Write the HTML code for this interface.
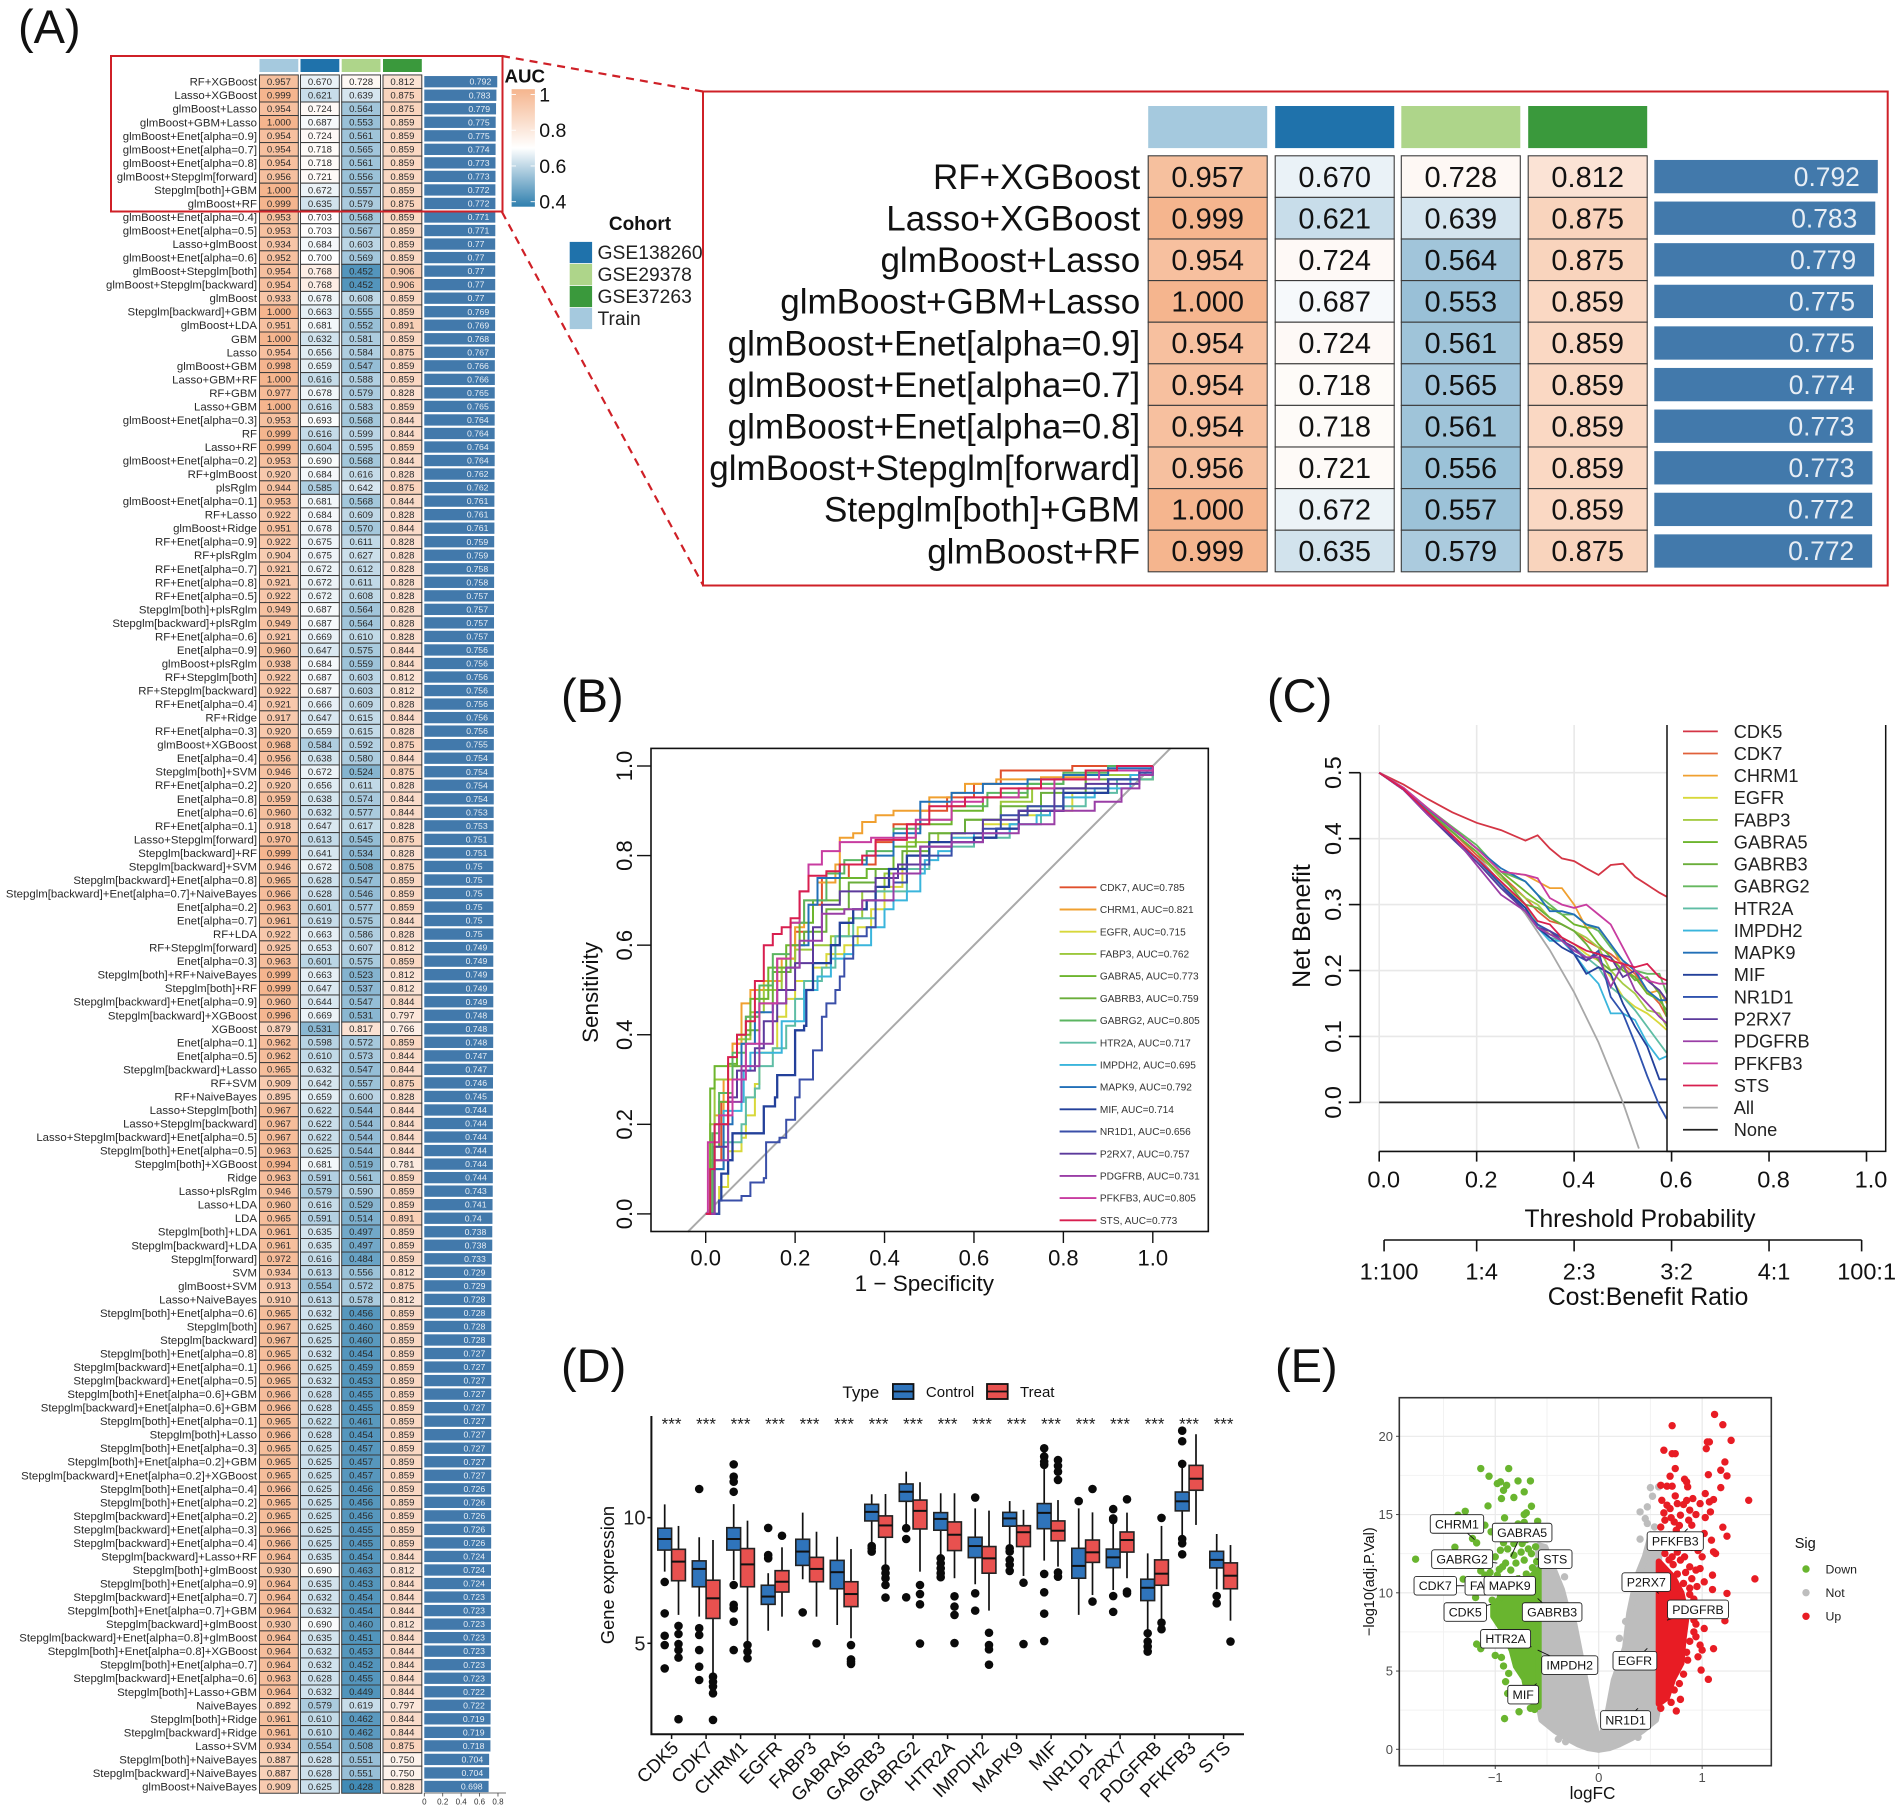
<!DOCTYPE html>
<html lang="en">
<head>
<meta charset="utf-8">
<title>Multi-panel gene signature figure</title>
<style>
html,body{margin:0;padding:0;background:#fff}
svg{display:block;font-family:"Liberation Sans",Arial,sans-serif}
</style>
</head>
<body>
<svg id="figure" xmlns="http://www.w3.org/2000/svg" width="1902" height="1812" viewBox="0 0 1902 1812">
  <rect x="0" y="0" width="1902" height="1812" fill="#fff"/>
  <text x="18" y="43" font-size="47" fill="#111">(A)</text>
  <text x="561" y="712" font-size="47" fill="#111">(B)</text>
  <text x="1267" y="712" font-size="47" fill="#111">(C)</text>
  <text x="561" y="1382" font-size="47" fill="#111">(D)</text>
  <text x="1275" y="1382" font-size="47" fill="#111">(E)</text>

  <g id="panel-a"></g>
  <g id="panel-a-inset"></g>
  <rect x="111" y="56" width="391.5" height="155.5" fill="none" stroke="#cf2027" stroke-width="2"/>
  <rect x="703" y="91.5" width="1184.7" height="494" fill="none" stroke="#cf2027" stroke-width="2"/>
  <line x1="502" y1="56" x2="703" y2="91.5" stroke="#cf2027" stroke-width="2.2" stroke-dasharray="8 6"/>
  <line x1="502" y1="212" x2="703" y2="585" stroke="#cf2027" stroke-width="2.2" stroke-dasharray="8 6"/>

  <g id="auc-legend">
    <text x="504.5" y="82.5" font-size="18.7" font-weight="bold" fill="#111">AUC</text>
  </g>
  <g id="cohort-legend">
    <text x="640" y="230" font-size="19" font-weight="bold" text-anchor="middle" fill="#111">Cohort</text>
  </g>

  <g id="panel-b">
    <text x="924.3" y="1291" font-size="22.5" text-anchor="middle" fill="#111">1 − Specificity</text>
    <text transform="translate(598 992.5) rotate(-90)" font-size="22.4" text-anchor="middle" fill="#111">Sensitivity</text>
  </g>

  <g id="panel-c">
    <text x="1640" y="1227" font-size="24.6" text-anchor="middle" fill="#111">Threshold Probability</text>
    <text x="1648" y="1305" font-size="24.9" text-anchor="middle" fill="#111">Cost:Benefit Ratio</text>
    <text transform="translate(1310 926) rotate(-90)" font-size="25" text-anchor="middle" fill="#111">Net Benefit</text>
  </g>

  <g id="panel-d">
    <text transform="translate(614 1575) rotate(-90)" font-size="18.3" text-anchor="middle" fill="#111">Gene expression</text>
    <text x="842.4" y="1398" font-size="17" fill="#111">Type</text>
    <g>
      <rect x="892.9" y="1384" width="20.6" height="15" fill="#2f74bb" stroke="#111" stroke-width="1.8"/>
      <line x1="892.9" x2="913.5" y1="1391.5" y2="1391.5" stroke="#111" stroke-width="1.8"/>
      <text x="925.9" y="1397" font-size="15" fill="#111">Control</text>
    </g>
    <g>
      <rect x="987" y="1384" width="20.7" height="15" fill="#e8514f" stroke="#111" stroke-width="1.8"/>
      <line x1="987" x2="1007.7" y1="1391.5" y2="1391.5" stroke="#111" stroke-width="1.8"/>
      <text x="1020" y="1397" font-size="15" fill="#111">Treat</text>
    </g>
  </g>

  <g id="panel-e">
    <text x="1592.5" y="1799" font-size="17.2" text-anchor="middle" fill="#111">logFC</text>
    <text transform="translate(1374 1581.7) rotate(-90)" font-size="14.5" text-anchor="middle" fill="#111">−log10(adj.P.Val)</text>
    <text x="1794.7" y="1548" font-size="14.6" fill="#111">Sig</text>
  </g>
</svg>

<script>
/* ---------- Panel A data ---------- */
const E = a => 'Enet[alpha=' + a + ']';
const rowNames = ['RF+XGBoost','Lasso+XGBoost','glmBoost+Lasso','glmBoost+GBM+Lasso','glmBoost+'+E(0.9),'glmBoost+'+E(0.7),'glmBoost+'+E(0.8),'glmBoost+Stepglm[forward]','Stepglm[both]+GBM','glmBoost+RF',
'glmBoost+'+E(0.4),'glmBoost+'+E(0.5),'Lasso+glmBoost','glmBoost+'+E(0.6),'glmBoost+Stepglm[both]','glmBoost+Stepglm[backward]','glmBoost','Stepglm[backward]+GBM','glmBoost+LDA','GBM',
'Lasso','glmBoost+GBM','Lasso+GBM+RF','RF+GBM','Lasso+GBM','glmBoost+'+E(0.3),'RF','Lasso+RF','glmBoost+'+E(0.2),'RF+glmBoost',
'plsRglm','glmBoost+'+E(0.1),'RF+Lasso','glmBoost+Ridge','RF+'+E(0.9),'RF+plsRglm','RF+'+E(0.7),'RF+'+E(0.8),'RF+'+E(0.5),'Stepglm[both]+plsRglm',
'Stepglm[backward]+plsRglm','RF+'+E(0.6),E(0.9),'glmBoost+plsRglm','RF+Stepglm[both]','RF+Stepglm[backward]','RF+'+E(0.4),'RF+Ridge','RF+'+E(0.3),'glmBoost+XGBoost',
E(0.4),'Stepglm[both]+SVM','RF+'+E(0.2),E(0.8),E(0.6),'RF+'+E(0.1),'Lasso+Stepglm[forward]','Stepglm[backward]+RF','Stepglm[backward]+SVM','Stepglm[backward]+'+E(0.8),
'Stepglm[backward]+'+E(0.7)+'+NaiveBayes',E(0.2),E(0.7),'RF+LDA','RF+Stepglm[forward]',E(0.3),'Stepglm[both]+RF+NaiveBayes','Stepglm[both]+RF','Stepglm[backward]+'+E(0.9),'Stepglm[backward]+XGBoost',
'XGBoost',E(0.1),E(0.5),'Stepglm[backward]+Lasso','RF+SVM','RF+NaiveBayes','Lasso+Stepglm[both]','Lasso+Stepglm[backward]','Lasso+Stepglm[backward]+'+E(0.5),'Stepglm[both]+'+E(0.5),
'Stepglm[both]+XGBoost','Ridge','Lasso+plsRglm','Lasso+LDA','LDA','Stepglm[both]+LDA','Stepglm[backward]+LDA','Stepglm[forward]','SVM','glmBoost+SVM',
'Lasso+NaiveBayes','Stepglm[both]+'+E(0.6),'Stepglm[both]','Stepglm[backward]','Stepglm[both]+'+E(0.8),'Stepglm[backward]+'+E(0.1),'Stepglm[backward]+'+E(0.5),'Stepglm[both]+'+E(0.6)+'+GBM','Stepglm[backward]+'+E(0.6)+'+GBM','Stepglm[both]+'+E(0.1),
'Stepglm[both]+Lasso','Stepglm[both]+'+E(0.3),'Stepglm[both]+'+E(0.2)+'+GBM','Stepglm[backward]+'+E(0.2)+'+XGBoost','Stepglm[both]+'+E(0.4),'Stepglm[both]+'+E(0.2),'Stepglm[backward]+'+E(0.2),'Stepglm[backward]+'+E(0.3),'Stepglm[backward]+'+E(0.4),'Stepglm[backward]+Lasso+RF',
'Stepglm[both]+glmBoost','Stepglm[both]+'+E(0.9),'Stepglm[backward]+'+E(0.7),'Stepglm[both]+'+E(0.7)+'+GBM','Stepglm[backward]+glmBoost','Stepglm[backward]+'+E(0.8)+'+glmBoost','Stepglm[both]+'+E(0.8)+'+XGBoost','Stepglm[both]+'+E(0.7),'Stepglm[backward]+'+E(0.6),'Stepglm[both]+Lasso+GBM',
'NaiveBayes','Stepglm[both]+Ridge','Stepglm[backward]+Ridge','Lasso+SVM','Stepglm[both]+NaiveBayes','Stepglm[backward]+NaiveBayes','glmBoost+NaiveBayes'];
const trainAuc = [.957,.999,.954,1,.954,.954,.954,.956,1,.999,.953,.953,.934,.952,.954,.954,.933,1,.951,1,.954,.998,1,.977,1,.953,.999,.999,.953,.92,.944,.953,.922,.951,.922,.904,.921,.921,.922,.949,.949,.921,.96,.938,.922,.922,.921,.917,.92,.968,.956,.946,.92,.959,.96,.918,.97,.999,.946,.965,.966,.963,.961,.922,.925,.963,.999,.999,.96,.996,.879,.962,.962,.965,.909,.895,.967,.967,.967,.963,.994,.963,.946,.96,.965,.961,.961,.972,.934,.913,.91,.965,.967,.967,.965,.966,.965,.966,.966,.965,.966,.965,.965,.965,.966,.965,.965,.966,.966,.964,.93,.964,.964,.964,.93,.964,.964,.964,.963,.964,.892,.961,.961,.934,.887,.887,.909];
const gse138260Auc = [.67,.621,.724,.687,.724,.718,.718,.721,.672,.635,.703,.703,.684,.7,.768,.768,.678,.663,.681,.632,.656,.659,.616,.678,.616,.693,.616,.604,.69,.684,.585,.681,.684,.678,.675,.675,.672,.672,.672,.687,.687,.669,.647,.684,.687,.687,.666,.647,.659,.584,.638,.672,.656,.638,.632,.647,.613,.641,.672,.628,.628,.601,.619,.663,.653,.601,.663,.647,.644,.669,.531,.598,.61,.632,.642,.659,.622,.622,.622,.625,.681,.591,.579,.616,.591,.635,.635,.616,.613,.554,.613,.632,.625,.625,.632,.625,.632,.628,.628,.622,.628,.625,.625,.625,.625,.625,.625,.625,.625,.635,.69,.635,.632,.632,.69,.635,.632,.632,.628,.632,.579,.61,.61,.554,.628,.628,.625];
const gse29378Auc = [.728,.639,.564,.553,.561,.565,.561,.556,.557,.579,.568,.567,.603,.569,.452,.452,.608,.555,.552,.581,.584,.547,.588,.579,.583,.568,.599,.595,.568,.616,.642,.568,.609,.57,.611,.627,.612,.611,.608,.564,.564,.61,.575,.559,.603,.603,.609,.615,.615,.592,.58,.524,.611,.574,.577,.617,.545,.534,.508,.547,.546,.577,.575,.586,.607,.575,.523,.537,.547,.531,.817,.572,.573,.547,.557,.6,.544,.544,.544,.544,.519,.561,.59,.529,.514,.497,.497,.484,.556,.572,.578,.456,.46,.46,.454,.459,.453,.455,.455,.461,.454,.457,.457,.457,.456,.456,.456,.455,.455,.454,.463,.453,.454,.454,.46,.451,.453,.452,.455,.449,.619,.462,.462,.508,.551,.551,.428];
const gse37263Auc = [.812,.875,.875,.859,.859,.859,.859,.859,.859,.875,.859,.859,.859,.859,.906,.906,.859,.859,.891,.859,.875,.859,.859,.828,.859,.844,.844,.859,.844,.828,.875,.844,.828,.844,.828,.828,.828,.828,.828,.828,.828,.828,.844,.844,.812,.812,.828,.844,.828,.875,.844,.875,.828,.844,.844,.828,.875,.828,.875,.859,.859,.859,.844,.828,.812,.859,.812,.812,.844,.797,.766,.859,.844,.844,.875,.828,.844,.844,.844,.844,.781,.859,.859,.859,.891,.859,.859,.859,.812,.875,.812,.859,.859,.859,.859,.859,.859,.859,.859,.859,.859,.859,.859,.859,.859,.859,.859,.859,.859,.844,.812,.844,.844,.844,.812,.844,.844,.844,.844,.844,.797,.844,.844,.875,.75,.75,.828];
const meanAuc = ['0.792','0.783','0.779','0.775','0.775','0.774','0.773','0.773','0.772','0.772','0.771','0.771','0.77','0.77','0.77','0.77','0.77','0.769','0.769','0.768','0.767','0.766','0.766','0.765','0.765','0.764','0.764','0.764','0.764','0.762','0.762','0.761','0.761','0.761','0.759','0.759','0.758','0.758','0.757','0.757','0.757','0.757','0.756','0.756','0.756','0.756','0.756','0.756','0.756','0.755','0.754','0.754','0.754','0.754','0.753','0.753','0.751','0.751','0.75','0.75','0.75','0.75','0.75','0.75','0.749','0.749','0.749','0.749','0.749','0.748','0.748','0.748','0.747','0.747','0.746','0.745','0.744','0.744','0.744','0.744','0.744','0.744','0.743','0.741','0.74','0.738','0.738','0.733','0.729','0.729','0.728','0.728','0.728','0.728','0.727','0.727','0.727','0.727','0.727','0.727','0.727','0.727','0.727','0.727','0.726','0.726','0.726','0.726','0.726','0.724','0.724','0.724','0.723','0.723','0.723','0.723','0.723','0.723','0.723','0.722','0.722','0.719','0.719','0.718','0.704','0.704','0.698'];
const cohortNames = ['GSE138260','GSE29378','GSE37263','Train'];
const cohortColors = ['#1f72ab','#aed58a','#3a993c','#a5c9de'];
const columnCohorts = ['Train','GSE138260','GSE29378','GSE37263'];
const barAxisTicks = [0,0.2,0.4,0.6,0.8];
const aucLegendTicks = [1,0.8,0.6,0.4];

/* ---------- Panel B data ---------- */
const rocTicks = [0,0.2,0.4,0.6,0.8,1];
const rocNames = ['CDK7','CHRM1','EGFR','FABP3','GABRA5','GABRB3','GABRG2','HTR2A','IMPDH2','MAPK9','MIF','NR1D1','P2RX7','PDGFRB','PFKFB3','STS'];
const rocAucs = ['0.785','0.821','0.715','0.762','0.773','0.759','0.805','0.717','0.695','0.792','0.714','0.656','0.757','0.731','0.805','0.773'];
const rocColors = ['#e0502d','#f0a030','#d8d83a','#9cc83c','#6db52e','#6aae3a','#5bb561','#5fbda5','#3ab5dc','#2270b8','#23409a','#3a4fa8','#5c3a9c','#9a3ea6','#c83ca0','#d81f4f'];
const rocCDK7 = [[0,0],[.015,.12],[.035,.25],[.06,.38],[.09,.44],[.12,.5],[.16,.57],[.2,.63],[.23,.69],[.26,.75],[.32,.78],[.38,.83],[.42,.87],[.48,.9],[.54,.93],[.6,.96],[.66,.99],[.75,.99],[.82,1],[1,1]];
const rocCHRM1 = [[0,0],[.01,.12],[.02,.22],[.04,.3],[.06,.38],[.08,.47],[.1,.5],[.13,.52],[.17,.57],[.2,.64],[.22,.7],[.25,.74],[.29,.78],[.3,.84],[.33,.85],[.35,.875],[.38,.89],[.42,.9],[.47,.9],[.5,.93],[.55,.94],[.58,.96],[.65,.97],[.75,.975],[.85,.99],[1,1]];
const rocEGFR = [[0,0],[.03,.06],[.05,.14],[.08,.17],[.09,.22],[.11,.29],[.12,.36],[.15,.37],[.16,.44],[.18,.48],[.2,.52],[.24,.55],[.27,.58],[.31,.6],[.34,.64],[.37,.68],[.4,.73],[.44,.78],[.48,.82],[.55,.84],[.62,.87],[.7,.89],[.77,.9],[.82,.94],[.9,.97],[1,1]];
const rocFABP3 = [[0,0],[.01,.2],[.02,.3],[.05,.33],[.07,.39],[.1,.45],[.13,.5],[.17,.55],[.2,.59],[.24,.6],[.28,.62],[.32,.66],[.35,.72],[.4,.76],[.45,.83],[.52,.85],[.58,.88],[.66,.92],[.73,.95],[.85,.98],[1,1]];
const rocGABRA5 = [[0,0],[.01,.28],[.02,.33],[.05,.335],[.07,.4],[.1,.48],[.14,.55],[.18,.6],[.21,.65],[.24,.7],[.3,.75],[.36,.77],[.42,.82],[.47,.87],[.55,.9],[.62,.93],[.72,.96],[.8,.98],[.9,1],[1,1]];
const rocGABRB3 = [[0,0],[.015,.15],[.03,.25],[.06,.33],[.09,.41],[.12,.47],[.15,.54],[.19,.6],[.22,.63],[.27,.68],[.32,.74],[.38,.77],[.44,.81],[.5,.85],[.58,.88],[.66,.91],[.75,.94],[.85,.97],[1,1]];
const rocGABRG2 = [[0,0],[.015,.18],[.03,.27],[.06,.36],[.09,.44],[.12,.51],[.15,.58],[.19,.65],[.22,.7],[.27,.76],[.31,.79],[.36,.81],[.42,.86],[.48,.88],[.55,.91],[.63,.94],[.72,.96],[.8,.985],[.9,1],[1,1]];
const rocHTR2A = [[0,0],[.02,.1],[.04,.16],[.08,.2],[.09,.26],[.11,.28],[.12,.33],[.15,.37],[.18,.42],[.2,.48],[.22,.52],[.26,.55],[.29,.62],[.33,.66],[.38,.72],[.45,.77],[.5,.82],[.6,.84],[.68,.87],[.75,.91],[.85,.94],[.92,.97],[1,1]];
const rocIMPDH2 = [[0,0],[.01,.1],[.02,.2],[.04,.23],[.08,.25],[.085,.32],[.1,.36],[.14,.36],[.17,.43],[.21,.43],[.22,.5],[.25,.53],[.28,.57],[.31,.58],[.33,.6],[.37,.64],[.4,.68],[.42,.7],[.45,.72],[.48,.76],[.49,.79],[.52,.81],[.55,.84],[.6,.85],[.68,.87],[.74,.89],[.77,.9],[.8,.93],[.87,.95],[.95,.98],[1,1]];
const rocMAPK9 = [[0,0],[.02,.1],[.04,.2],[.06,.3],[.08,.38],[.11,.45],[.15,.47],[.18,.55],[.21,.6],[.23,.69],[.25,.75],[.3,.78],[.36,.8],[.42,.85],[.48,.92],[.55,.94],[.62,.96],[.72,.97],[.8,.98],[.9,.995],[1,1]];
const rocMIF = [[0,0],[.03,.03],[.035,.09],[.05,.12],[.06,.18],[.13,.18],[.13,.24],[.155,.26],[.16,.31],[.2,.325],[.2,.41],[.22,.42],[.225,.5],[.24,.56],[.28,.6],[.3,.65],[.33,.68],[.36,.7],[.38,.73],[.41,.77],[.45,.8],[.5,.83],[.6,.84],[.65,.86],[.7,.9],[.8,.94],[.9,.97],[.97,.99],[1,1]];
const rocNR1D1 = [[0,0],[.03,.03],[.08,.04],[.1,.07],[.13,.08],[.135,.16],[.165,.17],[.18,.21],[.2,.26],[.21,.3],[.24,.31],[.24,.365],[.26,.44],[.27,.47],[.29,.5],[.3,.53],[.31,.57],[.33,.58],[.33,.62],[.36,.64],[.38,.7],[.42,.74],[.45,.78],[.5,.8],[.55,.83],[.62,.86],[.66,.89],[.72,.91],[.8,.95],[.9,.97],[.97,.985],[1,1]];
const rocP2RX7 = [[0,0],[.02,.15],[.05,.26],[.07,.32],[.11,.37],[.13,.43],[.16,.5],[.2,.56],[.24,.64],[.26,.69],[.3,.72],[.38,.75],[.43,.78],[.48,.82],[.55,.85],[.62,.88],[.7,.9],[.78,.95],[.85,.96],[.97,.99],[1,1]];
const rocPDGFRB = [[0,0],[.02,.12],[.05,.25],[.08,.33],[.12,.38],[.15,.47],[.18,.55],[.21,.61],[.26,.67],[.31,.68],[.35,.7],[.42,.76],[.48,.82],[.55,.83],[.62,.85],[.7,.87],[.78,.9],[.87,.92],[.93,.95],[.97,.98],[1,1]];
const rocPFKFB3 = [[0,0],[.005,.16],[.03,.22],[.06,.3],[.09,.38],[.12,.47],[.16,.57],[.19,.65],[.21,.72],[.23,.78],[.26,.81],[.3,.83],[.37,.84],[.43,.84],[.47,.88],[.55,.92],[.62,.93],[.7,.95],[.78,.97],[.88,.99],[1,1]];
const rocSTS = [[0,0],[.01,.1],[.02,.2],[.05,.35],[.07,.4],[.09,.43],[.11,.52],[.13,.6],[.15,.625],[.17,.64],[.19,.66],[.21,.72],[.23,.755],[.27,.765],[.3,.78],[.35,.8],[.38,.835],[.45,.87],[.5,.91],[.58,.93],[.66,.95],[.75,.97],[.85,.99],[.92,1],[1,1]];
const rocSeries = [rocCDK7,rocCHRM1,rocEGFR,rocFABP3,rocGABRA5,rocGABRB3,rocGABRG2,rocHTR2A,rocIMPDH2,rocMAPK9,rocMIF,rocNR1D1,rocP2RX7,rocPDGFRB,rocPFKFB3,rocSTS];

/* ---------- Panel C data ---------- */
const dcaThresholds = [0,.05,.1,.15,.2,.25,.3,.325,.35,.375,.4,.425,.45,.475,.5,.525,.55,.575,.59];
const dcaXTicks = [0,0.2,0.4,0.6,0.8,1];
const dcaYTicks = [0,0.1,0.2,0.3,0.4,0.5];
const dcaRatioPositions = [0.01,0.2,0.4,0.6,0.8,0.99];
const dcaRatioLabels = ['1:100','1:4','2:3','3:2','4:1','100:1'];
const dcaNames = ['CDK5','CDK7','CHRM1','EGFR','FABP3','GABRA5','GABRB3','GABRG2','HTR2A','IMPDH2','MAPK9','MIF','NR1D1','P2RX7','PDGFRB','PFKFB3','STS','All','None'];
const dcaColors = ['#d43545','#e0603a','#f0a030','#d8d83a','#a6cc45','#6db52e','#6aae3a','#66b85f','#5fbda5','#3ab5dc','#2270b8','#23409a','#2f52ae','#5c3a9c','#9a3ea6','#c83ca0','#d81f4f','#a8a8a8','#222222'];
const dcaCDK5 = [.5,.482,.46,.44,.424,.413,.397,.405,.385,.37,.366,.355,.345,.36,.362,.342,.33,.318,.312];
const dcaCDK7 = [.5,.475,.44,.41,.375,.345,.31,.29,.275,.27,.26,.245,.235,.225,.21,.195,.17,.15,.13];
const dcaCHRM1 = [.5,.476,.445,.415,.385,.35,.345,.335,.325,.325,.3,.265,.265,.24,.205,.19,.165,.17,.15];
const dcaEGFR = [.5,.475,.44,.405,.37,.33,.3,.27,.255,.25,.24,.225,.215,.19,.16,.145,.135,.12,.11];
const dcaFABP3 = [.5,.476,.442,.41,.38,.34,.31,.3,.28,.27,.26,.25,.235,.2,.18,.165,.14,.135,.115];
const dcaGABRA5 = [.5,.476,.445,.415,.385,.35,.32,.305,.295,.285,.27,.265,.24,.22,.2,.19,.165,.155,.14];
const dcaGABRB3 = [.5,.476,.442,.41,.38,.345,.3,.295,.28,.27,.26,.24,.215,.2,.205,.185,.19,.165,.13];
const dcaGABRG2 = [.5,.477,.446,.418,.39,.35,.335,.315,.3,.285,.285,.27,.26,.235,.215,.2,.195,.195,.165];
const dcaHTR2A = [.5,.474,.438,.4,.365,.33,.295,.27,.25,.245,.235,.22,.205,.175,.16,.14,.115,.09,.075];
const dcaIMPDH2 = [.5,.474,.438,.4,.365,.325,.295,.265,.245,.245,.225,.2,.18,.135,.135,.125,.09,.065,.07];
const dcaMAPK9 = [.5,.476,.445,.415,.385,.355,.335,.315,.29,.29,.285,.27,.265,.24,.215,.2,.17,.155,.155];
const dcaMIF = [.5,.474,.438,.402,.37,.33,.295,.265,.25,.235,.225,.195,.205,.195,.15,.115,.085,.035,.035];
const dcaNR1D1 = [.5,.474,.436,.402,.37,.33,.29,.27,.26,.25,.225,.215,.23,.16,.135,.09,.04,-.005,-.025];
const dcaP2RX7 = [.5,.474,.436,.4,.365,.325,.29,.265,.26,.245,.235,.215,.225,.22,.19,.2,.185,.17,.155];
const dcaPDGFRB = [.5,.474,.436,.405,.36,.315,.29,.265,.255,.245,.23,.22,.22,.175,.21,.17,.15,.13,.12];
const dcaPFKFB3 = [.5,.477,.446,.416,.385,.35,.345,.34,.31,.3,.295,.3,.285,.27,.235,.2,.185,.18,.18];
const dcaSTS = [.5,.475,.44,.405,.37,.335,.3,.275,.27,.25,.24,.23,.225,.215,.21,.205,.21,.19,.185];
const dcaAllX = [0,.05,.1,.15,.2,.25,.3,.35,.4,.45,.5,.533];
const dcaAllY = [.5,.474,.444,.412,.375,.333,.286,.231,.167,.091,0,-.07];
const dcaNoneX = [0,.59];
const dcaNoneY = [0,0];
const dcaSeries = [dcaCDK5,dcaCDK7,dcaCHRM1,dcaEGFR,dcaFABP3,dcaGABRA5,dcaGABRB3,dcaGABRG2,dcaHTR2A,dcaIMPDH2,dcaMAPK9,dcaMIF,dcaNR1D1,dcaP2RX7,dcaPDGFRB,dcaPFKFB3,dcaSTS];

/* ---------- Panel D data ---------- */
const boxGenes = ['CDK5','CDK7','CHRM1','EGFR','FABP3','GABRA5','GABRB3','GABRG2','HTR2A','IMPDH2','MAPK9','MIF','NR1D1','P2RX7','PDGFRB','PFKFB3','STS'];
const boxYTicks = [5,10];
const controlQ1 = [8.71,7.25,8.71,6.55,8.1,7.17,9.87,10.65,9.5,8.41,9.66,9.56,7.59,8.01,6.7,10.27,8.0];
const controlMedian = [9.15,7.96,9.15,6.86,8.65,7.83,10.23,11.03,9.95,8.87,9.97,10.19,8.08,8.42,7.21,10.65,8.32];
const controlQ3 = [9.58,8.28,9.6,7.31,9.14,8.3,10.53,11.34,10.2,9.22,10.21,10.56,8.78,8.75,7.55,11.02,8.66];
const controlLow = [7.85,6.06,7.52,5.5,7.55,5.73,8.98,9.71,8.51,7.35,8.85,8.29,6.13,7.12,5.53,9.24,7.15];
const controlHigh = [10.53,9.22,10.54,7.79,10.2,9.24,10.93,11.83,10.97,10.37,10.66,12.1,10.37,9.84,8.58,12.06,9.35];
const controlOutliers = [[7.44,6.19,5.3,4.93,4.0],[11.14,5.6,5.33,4.73,4.07,3.54],[12.12,11.63,11.43,11.03,7.32,6.53,6.39,5.86,4.73],[9.59,8.51,8.38],[6.23],[],[8.87,8.78,8.65],[9.58,9.15,6.83],[8.38,8.18,7.98,7.79,7.63],[10.8,6.99,6.3],[8.78,8.65,8.32,8.12,7.88],[12.76,12.43,12.23,12.1,7.76,7.03,6.18,5.09],[10.66],[10.34,9.97,9.91,6.88,6.25],[5.4,5.07,4.87,4.67],[13.46,13.04,12.14,9.15,8.98,8.54],[6.88,6.59]];
const treatQ1 = [7.49,5.99,7.25,7.04,7.45,6.46,9.22,9.55,8.69,7.79,8.85,9.08,8.22,8.63,7.31,11.09,7.17];
const treatMedian = [8.25,6.79,8.14,7.45,7.96,6.96,9.69,10.27,9.32,8.38,9.42,9.48,8.62,9.11,7.77,11.55,7.69];
const treatQ3 = [8.74,7.51,8.77,7.89,8.42,7.45,10.07,10.7,9.83,8.85,9.68,9.87,9.11,9.43,8.32,12.08,8.2];
const treatLow = [6.13,3.81,5.07,6.06,6.06,5.2,8.12,7.85,7.59,6.3,7.68,8.05,6.92,7.59,5.95,9.71,5.9];
const treatHigh = [9.67,9.11,9.88,8.82,9.44,8.75,10.94,11.41,10.97,10.28,10.31,10.7,10.21,10.2,9.67,13.32,8.91];
const treatOutliers = [[5.69,5.37,4.97,4.73,4.43,1.98],[3.67,3.47,3.28,3.01,1.95],[4.93,4.67,4.4],[9.28],[5],[4.93,4.36,4.27,4.18],[7.98,7.79,7.59,7.32,6.82],[7.32,6.96,6.55,4.99],[6.87,6.46,6.13,5.01],[5.42,4.93,4.76,4.15],[7.41,4.97],[12.29,12.06,11.83,11.5,7.82,7.65],[11.14,6.66],[10.73,7.06,6.99],[9.99,5.82,5.56],[],[5.07]];

/* ---------- Panel E data ---------- */
const volcanoXTicks = [-1,0,1];
const volcanoXMinor = [-1.5,-0.5,0.5];
const volcanoYTicks = [0,5,10,15,20];
const volcanoYMinor = [2.5,7.5,12.5,17.5];
const grayLeftBand = [[0,0],[-.1,.1],[-.2,.35],[-.3,.7],[-.42,1.2],[-.55,1.9],[-.58,3],[-.58,13],[-.52,12.9],[-.44,11.5],[-.36,10.2],[-.32,9.2],[-.24,8],[-.18,6],[-.12,4],[-.06,2],[0,.4]];
const grayRightBand = [[0,0],[.1,.1],[.2,.35],[.32,.75],[.42,1.2],[.55,1.9],[.58,3],[.58,13],[.5,13.5],[.45,12.3],[.39,11.3],[.34,10],[.3,8.7],[.26,6.5],[.15,4.4],[.07,1.6],[0,.4]];
const grayPoints = [[.5,16.72],[.58,16.77],[.52,16.17],[.47,15.49],[.4,15.17],[.45,14.74],[.47,14.43],[.54,14.21],[.4,13.43],[-.41,10.85],[-.33,11.02],[-.51,11.34],[.26,8.17],[.2,7.09],[-.39,.64],[-.32,.49],[.38,.77],[.52,1.98]];
const greenBand = [[-.58,2.7],[-.68,3.2],[-.72,4.5],[-.8,5.3],[-.84,6.3],[-.92,7.5],[-1.02,8.5],[-1.02,9.2],[-.9,10],[-.75,10.6],[-.66,11],[-.58,11.5]];
const greenPoints = [[-1.77,12.15],[-1.14,17.94],[-.87,17.94],[-1.06,17.45],[-.98,16.98],[-.95,17.09],[-.89,16.87],[-.92,16.55],[-.78,17.15],[-.66,17.15],[-.72,16.45],[-.94,16.02],[-.82,16.09],[-1.07,15.55],[-.65,15.53],[-.7,15.11],[-.72,15],[-.91,14.79],[-.59,14.57],[-1.36,14.96],[-1.29,15.21],[-1.1,14.32],[-1.22,13.47],[-1.18,13.19],[-1.39,12.91],[-1.31,10.87],[-1.14,11.4],[-1.1,11.13],[-1.19,9.7],[-1.03,9.53],[-1.18,6.72],[-1.14,6.43],[-1,6],[-.94,5.87],[-.92,5.32],[-.87,4.85],[-.9,4.32],[-.88,3.57],[-.77,2.4],[-.91,1.96],[-.66,2.62],[-.62,2.55],[-.65,14.2],[-.76,13.8],[-.98,13.8],[-1.04,13.9],[-.82,13.15],[-.95,12.72],[-1,12.3],[-.93,11.66],[-.85,11.45],[-.72,12.09],[-.65,12.5],[-.61,12.94],[-.98,11.13],[-1.08,10.38],[-1.02,10.8],[-.66,10.8],[-.74,13.15],[-.95,9.74],[-.6,12],[-.64,11.6],[-.7,11.2],[-.78,10.9],[-.85,10.8],[-.92,10.6],[-.96,10.4],[-.75,12.6],[-.82,12.4],[-.88,12.8],[-.92,13.2],[-.7,13.4],[-.62,13.5],[-.68,12.8],[-.8,11.9],[-.9,11.9],[-.96,11.5],[-1.05,11.3],[-.84,14],[-.78,14.4],[-.72,14.5],[-.9,13.5]];
const redBand = [[.58,2.9],[.66,3.3],[.72,4.5],[.8,5.5],[.82,7],[.85,8.5],[.8,10],[.72,11],[.65,11.5],[.58,12]];
const redPoints = [[1.12,21.4],[.71,20.68],[1.2,20.74],[1.28,19.74],[1.07,19.64],[1.05,19.64],[1.04,19.21],[.63,19.11],[.71,18.89],[.74,18.89],[1.22,18.36],[.74,17.94],[1.18,17.83],[1.06,17.55],[1.24,17.47],[.69,17.45],[.83,17.26],[.85,17.09],[.86,16.77],[.6,16.87],[.66,16.81],[.71,16.81],[1.18,16.72],[1.03,16.34],[.74,16.19],[.61,15.91],[.91,16.02],[1.45,15.91],[1.11,15.96],[1.07,15.81],[.98,15.7],[.82,15.64],[.69,15.38],[.88,15.28],[.63,15.11],[1.08,15.17],[.79,14.96],[1.03,14.81],[.64,14.64],[.87,14.64],[.73,14.53],[1.2,14.19],[.9,14.32],[1.24,13.62],[1.02,13.79],[1.09,13.36],[1.11,12.62],[1,12.3],[1.13,12.51],[1.1,11.13],[1.51,10.89],[1.24,9.96],[1.1,10.21],[1.02,10.7],[.94,11.45],[.98,11.55],[.88,11.66],[.79,12.09],[.71,12.3],[.64,12.51],[1.22,8.21],[1.02,7.72],[.98,6.66],[1.11,6.43],[1,6.34],[.96,5.91],[.99,5.06],[1.06,4.47],[.79,3.19],[.75,2.45],[.6,2.62],[.73,3.79],[.86,5.7],[.94,7.19],[.92,8.26],[.84,11.3],[.9,10.9],[.95,10.4],[.88,10.3],[.82,10.6],[.76,11.2],[.72,11.8],[.68,12.1],[.92,9.6],[.97,9.2],[.9,8.8],[.94,8],[.92,7.5],[.88,6.9],[.85,6.2],[.82,4.8],[.78,4.2],[.7,3],[.88,9.9],[.83,12.3],[.76,12.6],[.68,12.9],[.9,12.9],[.96,12.7],[.62,13.4],[.68,13.7],[.75,14],[.8,13.5],[.85,13.3],[.92,13.2],[.96,13.5],[.7,14.8],[.78,14.3],[.94,15],[.6,14.2],[.66,15.6],[.76,15.7],[.85,15.9]];
const geneLabels = ['CHRM1','GABRA5','GABRG2','STS','CDK7','FABP3','MAPK9','CDK5','GABRB3','HTR2A','IMPDH2','MIF','PFKFB3','P2RX7','PDGFRB','EGFR','NR1D1'];
const geneLabelX = [-1.37,-.74,-1.32,-.42,-1.58,-1.06,-.86,-1.29,-.45,-.9,-.28,-.73,.74,.46,.96,.35,.26];
const geneLabelY = [14.4,13.85,12.15,12.15,10.45,10.45,10.45,8.77,8.77,7.06,5.38,3.49,13.3,10.68,8.94,5.66,1.87];
const genePointX = [-1.2,-.85,-.98,-.6,-1.3,-1.06,-.76,-1.04,-.59,-.65,-.59,-.6,.86,.58,.66,.47,.38];
const genePointY = [13.4,12.3,11.9,12.15,10.45,10.45,11.1,9.27,9.64,6.55,6.34,4.2,14.1,9.96,8.25,6.45,2.62];
const sigNames = ['Down','Not','Up'];
const sigColors = ['#69b52f','#bdbdbd','#e81c24'];

/* ---------- Helpers ---------- */
const NS = 'http://www.w3.org/2000/svg';
function mk(tag, parent, attrs, text) {
  const el = document.createElementNS(NS, tag);
  for (const k in attrs) el.setAttribute(k, attrs[k]);
  if (text !== undefined) el.textContent = text;
  parent.appendChild(el);
  return el;
}
function aucColor(v) {
  const lo = [47,127,174], mid = [255,255,255], hi = [245,181,142];
  const t = v >= 0.7 ? (v - 0.7) / 0.3 : (0.7 - v) / 0.3;
  const to = v >= 0.7 ? hi : lo;
  const c = mid.map((m, i) => Math.round(m + (to[i] - m) * Math.min(1, t)));
  return 'rgb(' + c.join(',') + ')';
}
const root = document.getElementById('figure');
const aucColumns = [trainAuc, gse138260Auc, gse29378Auc, gse37263Auc];

/* ---------- Panel A heatmaps ---------- */
function drawHeatmap(g, n, geo) {
  columnCohorts.forEach((c, j) => {
    const idx = cohortNames.indexOf(c);
    const h = mk('rect', g, {x: geo.colX[j], y: geo.headY, width: geo.colW, height: geo.headH, fill: cohortColors[idx]});
    
    
  });
  for (let i = 0; i < n; i++) {
    const yTop = geo.top + i * geo.pitch;
    const yMid = yTop + geo.pitch / 2;
    const lab = mk('text', g, {x: geo.labelX, y: yMid + geo.labelFs * 0.35, 'font-size': geo.labelFs, 'text-anchor': 'end', fill: geo.ink}, rowNames[i]);
    
    
    aucColumns.forEach((col, j) => {
      const cell = mk('rect', g, {x: geo.colX[j], y: yTop, width: geo.colW, height: geo.pitch, fill: aucColor(col[i]), stroke: '#3c3c3c', 'stroke-width': geo.cellStroke});
      
      
      const t = mk('text', g, {x: geo.colX[j] + geo.colW / 2, y: yMid + geo.cellFs * 0.35, 'font-size': geo.cellFs, 'text-anchor': 'middle', fill: geo.ink}, col[i].toFixed(3));
      
      
    });
    const v = parseFloat(meanAuc[i]);
    const barW = v * geo.barScale;
    const bar = mk('rect', g, {x: geo.barX, y: yMid - geo.barH / 2, width: barW, height: geo.barH, fill: '#4279ab'});
    
    
    const bt = mk('text', g, {x: geo.barX + barW - geo.barTextBack, y: yMid + geo.barFs * 0.35, 'font-size': geo.barFs, fill: '#e8eef5'}, meanAuc[i]);
    
    
  }
}
const mainHeat = document.getElementById('panel-a');
drawHeatmap(mainHeat, rowNames.length, {colX: [259.5,300.5,341.7,383], colW: 38.8, headY: 59, headH: 13, top: 74.93, pitch: 13.53, labelX: 257, labelFs: 11.4, cellFs: 9.6, ink: '#2a2a2a', cellStroke: 1, barX: 424.3, barScale: 92.1, barH: 11.3, barFs: 8.7, barTextBack: 27.7});
const insetHeat = document.getElementById('panel-a-inset');
drawHeatmap(insetHeat, 10, {colX: [1148.2,1275.2,1401.3,1528.2], colW: 119, headY: 106, headH: 42.1, top: 155.8, pitch: 41.6, labelX: 1140.2, labelFs: 35, cellFs: 29, ink: '#111', cellStroke: 1.1, barX: 1654.3, barScale: 282.2, barH: 33.3, barFs: 26.4, barTextBack: 84});

/* Mean AUC bar axis */
const axLine = mk('line', mainHeat, {x1: 424.3, x2: 506, y1: 1793, y2: 1793, stroke: '#444', 'stroke-width': 0.8});


barAxisTicks.forEach(t => {
  const x = 424.3 + t * 92.1;
  const tk = mk('line', mainHeat, {x1: x, x2: x, y1: 1793, y2: 1796.5, stroke: '#444', 'stroke-width': 0.8});
  
  
  const lb = mk('text', mainHeat, {x: x, y: 1804.5, 'font-size': 8, 'text-anchor': 'middle', fill: '#333'}, String(t));
  
  
});

/* AUC colour bar */
const aucLegend = document.getElementById('auc-legend');
const defs = mk('defs', root, {});
const grad = mk('linearGradient', defs, {id: 'aucGradient', x1: 0, x2: 0, y1: 0, y2: 1});
[1, 0.7, 0.4].forEach((v, i) => {
  mk('stop', grad, {offset: (i * 50) + '%', 'stop-color': aucColor(v)});
});
const cbar = mk('rect', aucLegend, {x: 511.6, y: 89.2, width: 23.3, height: 117.5, fill: 'url(#aucGradient)'});


aucLegendTicks.forEach(v => {
  const y = 94.5 + (1 - v) / 0.6 * 107.2;
  const t1 = mk('line', aucLegend, {x1: 511.6, x2: 516, y1: y, y2: y, stroke: '#fff', 'stroke-width': 0.9});
  
  
  const t2 = mk('line', aucLegend, {x1: 530.6, x2: 534.9, y1: y, y2: y, stroke: '#fff', 'stroke-width': 0.9});
  
  
  const lb = mk('text', aucLegend, {x: 539.3, y: y + 7, 'font-size': 19.5, fill: '#111'}, String(v));
  
  
});

/* Cohort legend */
const cohortLegend = document.getElementById('cohort-legend');
cohortNames.forEach((c, i) => {
  const y = 241.9 + i * 22;
  const sw = mk('rect', cohortLegend, {x: 569.7, y: y, width: 22.4, height: 21.2, fill: cohortColors[i]});
  
  
  const lb = mk('text', cohortLegend, {x: 597.5, y: y + 17.2, 'font-size': 19.3, fill: '#222'}, c);
  
  
});

/* ---------- Panel B ROC ---------- */
const panelB = document.getElementById('panel-b');
const rocX = v => 705.7 + v * 447.1;
const rocY = v => 1213.9 - v * 447.9;
const rocDiag = mk('line', panelB, {x1: rocX(-0.04), y1: rocY(-0.04), x2: rocX(1.04), y2: rocY(1.04), stroke: '#a9a9a9', 'stroke-width': 2});


rocSeries.forEach((pts, i) => {
  let d = 'M' + rocX(pts[0][0]).toFixed(1) + ' ' + rocY(pts[0][1]).toFixed(1);
  pts.slice(1).forEach(p => { d += 'H' + rocX(p[0]).toFixed(1) + 'V' + rocY(p[1]).toFixed(1); });
  const line = mk('path', panelB, {d: d, fill: 'none', stroke: rocColors[i], 'stroke-width': rocNames[i] === 'MIF' ? 2.3 : 2});
  
  
});
const rocBox = mk('rect', panelB, {x: 651, y: 748.4, width: 557.3, height: 483.1, fill: 'none', stroke: '#111', 'stroke-width': 1.6});


rocTicks.forEach(t => {
  const x = rocX(t), y = rocY(t);
  const xt = mk('line', panelB, {x1: x, x2: x, y1: 1231.5, y2: 1243, stroke: '#111', 'stroke-width': 1.4});
  
  
  const xl = mk('text', panelB, {x: x, y: 1265.6, 'font-size': 22, 'text-anchor': 'middle', fill: '#111'}, t.toFixed(1));
  
  
  const yt = mk('line', panelB, {x1: 637, x2: 651, y1: y, y2: y, stroke: '#111', 'stroke-width': 1.4});
  
  
  const yl = mk('text', panelB, {transform: 'translate(632 ' + y + ') rotate(-90)', 'font-size': 22, 'text-anchor': 'middle', fill: '#111'}, t.toFixed(1));
  
  
});
rocNames.forEach((n, i) => {
  const y = 887.3 + i * 22.2;
  const key = mk('line', panelB, {x1: 1059.6, x2: 1096.4, y1: y, y2: y, stroke: rocColors[i], 'stroke-width': 1.9});
  
  
  const lb = mk('text', panelB, {x: 1099.9, y: y + 3.6, 'font-size': 10.15, fill: '#333'}, n + ', AUC=' + rocAucs[i]);
  
  
});

/* ---------- Panel C decision curves ---------- */
const panelC = document.getElementById('panel-c');
const dcaX = v => 1379.2 + v * 487.3;
const dcaY = v => 1102.4 - v * 659.4;
dcaXTicks.slice(0, 4).forEach(t => {
  const g = mk('line', panelC, {x1: dcaX(t), x2: dcaX(t), y1: 725, y2: 1151.4, stroke: '#e8e8e8', 'stroke-width': 1.6});
  
  
});
dcaYTicks.forEach(t => {
  const g = mk('line', panelC, {x1: 1360.3, x2: 1667, y1: dcaY(t), y2: dcaY(t), stroke: '#e8e8e8', 'stroke-width': 1.6});
  
  
});
const dcaPath = (xs, ys) => 'M' + xs.map((x, i) => dcaX(x).toFixed(1) + ' ' + dcaY(ys[i]).toFixed(1)).join('L');
const noneCurve = mk('path', panelC, {d: dcaPath(dcaNoneX, dcaNoneY), fill: 'none', stroke: dcaColors[18], 'stroke-width': 1.8});


const allCurve = mk('path', panelC, {d: dcaPath(dcaAllX, dcaAllY), fill: 'none', stroke: dcaColors[17], 'stroke-width': 1.8});


dcaSeries.forEach((vals, i) => {
  const c = mk('path', panelC, {d: dcaPath(dcaThresholds, vals), fill: 'none', stroke: dcaColors[i], 'stroke-width': 1.8});
  
  
});
const dcaLegendBg = mk('rect', panelC, {x: 1667, y: 720, width: 218.7, height: 431.4, fill: '#fff'});


const dcaLegendFrame = mk('path', panelC, {d: 'M1667 725V1151.4H1885.7V725', fill: 'none', stroke: '#111', 'stroke-width': 1.5});


dcaNames.forEach((n, i) => {
  const y = 731.4 + i * 22.13;
  const key = mk('line', panelC, {x1: 1683, x2: 1717.8, y1: y, y2: y, stroke: dcaColors[i], 'stroke-width': 1.8});
  
  
  const lb = mk('text', panelC, {x: 1733.8, y: y + 6.4, 'font-size': 18.2, fill: '#222'}, n);
  
  
});
const dcaXAxis = mk('line', panelC, {x1: dcaX(0), x2: dcaX(1), y1: 1151.4, y2: 1151.4, stroke: '#111', 'stroke-width': 1.6});


dcaXTicks.forEach(t => {
  const tk = mk('line', panelC, {x1: dcaX(t), x2: dcaX(t), y1: 1151.4, y2: 1161.6, stroke: '#111', 'stroke-width': 1.6});
  
  
  const lb = mk('text', panelC, {x: dcaX(t) + 4.5, y: 1187.3, 'font-size': 23.5, 'text-anchor': 'middle', fill: '#111'}, t.toFixed(1));
  
  
});
const dcaYAxis = mk('line', panelC, {x1: 1360.3, x2: 1360.3, y1: dcaY(0.5), y2: dcaY(0), stroke: '#111', 'stroke-width': 1.6});


dcaYTicks.forEach(t => {
  const tk = mk('line', panelC, {x1: 1348.9, x2: 1360.3, y1: dcaY(t), y2: dcaY(t), stroke: '#111', 'stroke-width': 1.6});
  
  
  const lb = mk('text', panelC, {transform: 'translate(1341 ' + dcaY(t) + ') rotate(-90)', 'font-size': 23.5, 'text-anchor': 'middle', fill: '#111'}, t.toFixed(1));
  
  
});
const ratioAxis = mk('line', panelC, {x1: dcaX(dcaRatioPositions[0]), x2: dcaX(dcaRatioPositions[5]), y1: 1240, y2: 1240, stroke: '#111', 'stroke-width': 1.6});


dcaRatioPositions.forEach((p, i) => {
  const tk = mk('line', panelC, {x1: dcaX(p), x2: dcaX(p), y1: 1240, y2: 1251.4, stroke: '#111', 'stroke-width': 1.6});
  
  
  const lb = mk('text', panelC, {x: dcaX(p) + 5, y: 1279.5, 'font-size': 23.5, 'text-anchor': 'middle', fill: '#111'}, dcaRatioLabels[i]);
  
  
});

/* ---------- Panel D boxplots ---------- */
const panelD = document.getElementById('panel-d');
const boxCatX = i => 671.6 + i * 34.5;
const boxY = v => 1643.3 - (v - 5) * 25.13;
function drawBox(i, cx, q1, med, q3, low, high, outliers, fill, kind) {
  const wh = mk('line', panelD, {x1: cx, x2: cx, y1: boxY(low), y2: boxY(high), stroke: '#111', 'stroke-width': 1.7});
  
  
  const bx = mk('rect', panelD, {x: cx - 6.9, y: boxY(q3), width: 13.8, height: boxY(q1) - boxY(q3), fill: fill, stroke: '#222', 'stroke-width': 1.6});
  
  
  const md = mk('line', panelD, {x1: cx - 6.9, x2: cx + 6.9, y1: boxY(med), y2: boxY(med), stroke: '#111', 'stroke-width': 2});
  
  
  outliers.forEach(v => {
    const o = mk('circle', panelD, {cx: cx, cy: boxY(v), r: 4.3, fill: '#0a0a0a'});
    
    
  });
}
boxGenes.forEach((g, i) => {
  const x = boxCatX(i);
  drawBox(i, x - 6.9, controlQ1[i], controlMedian[i], controlQ3[i], controlLow[i], controlHigh[i], controlOutliers[i], '#2f74bb', 'control');
  drawBox(i, x + 6.9, treatQ1[i], treatMedian[i], treatQ3[i], treatLow[i], treatHigh[i], treatOutliers[i], '#e8514f', 'treat');
  const st = mk('text', panelD, {x: x, y: 1429.5, 'font-size': 17, 'text-anchor': 'middle', fill: '#222'}, '***');
  
  
  const tk = mk('line', panelD, {x1: x, x2: x, y1: 1734.3, y2: 1739, stroke: '#111', 'stroke-width': 1.5});
  
  
  const lb = mk('text', panelD, {transform: 'translate(' + (x + 8) + ' 1749) rotate(-45)', 'font-size': 18.6, 'text-anchor': 'end', fill: '#111'}, g);
  
  
});
const boxAxes = mk('path', panelD, {d: 'M651.4 1416V1734.3H1244', fill: 'none', stroke: '#111', 'stroke-width': 2});


boxYTicks.forEach(t => {
  const tk = mk('line', panelD, {x1: 647.4, x2: 651.4, y1: boxY(t), y2: boxY(t), stroke: '#111', 'stroke-width': 1.5});
  
  
  const lb = mk('text', panelD, {x: 645.5, y: boxY(t) + 7, 'font-size': 20, 'text-anchor': 'end', fill: '#222'}, String(t));
  
  
});

/* ---------- Panel E volcano ---------- */
const panelE = document.getElementById('panel-e');
const volX = v => 1598.7 + v * 103.45;
const volY = v => 1749.3 - v * 15.65;
volcanoXMinor.forEach(t => {
  const g = mk('line', panelE, {x1: volX(t), x2: volX(t), y1: 1397.7, y2: 1765.7, stroke: '#f2f2f2', 'stroke-width': 1});
  
  
});
volcanoYMinor.forEach(t => {
  const g = mk('line', panelE, {x1: 1399.3, x2: 1771.3, y1: volY(t), y2: volY(t), stroke: '#f2f2f2', 'stroke-width': 1});
  
  
});
volcanoXTicks.forEach(t => {
  const g = mk('line', panelE, {x1: volX(t), x2: volX(t), y1: 1397.7, y2: 1765.7, stroke: '#e9e9e9', 'stroke-width': 1.2});
  
  
  const tk = mk('line', panelE, {x1: volX(t), x2: volX(t), y1: 1765.7, y2: 1769, stroke: '#444', 'stroke-width': 1});
  
  
  const lb = mk('text', panelE, {x: volX(t), y: 1782, 'font-size': 13, 'text-anchor': 'middle', fill: '#4d4d4d'}, t < 0 ? '−' + Math.abs(t) : String(t));
  
  
});
volcanoYTicks.forEach(t => {
  const g = mk('line', panelE, {x1: 1399.3, x2: 1771.3, y1: volY(t), y2: volY(t), stroke: '#e9e9e9', 'stroke-width': 1.2});
  
  
  const tk = mk('line', panelE, {x1: 1396, x2: 1399.3, y1: volY(t), y2: volY(t), stroke: '#444', 'stroke-width': 1});
  
  
  const lb = mk('text', panelE, {x: 1393, y: volY(t) + 4.6, 'font-size': 13, 'text-anchor': 'end', fill: '#4d4d4d'}, String(t));
  
  
});
const bandPoints = pts => pts.map(p => volX(p[0]).toFixed(1) + ',' + volY(p[1]).toFixed(1)).join(' ');
const grayL = mk('polygon', panelE, {points: bandPoints(grayLeftBand), fill: sigColors[1], stroke: sigColors[1], 'stroke-width': 7, 'stroke-linejoin': 'round'});


const grayR = mk('polygon', panelE, {points: bandPoints(grayRightBand), fill: sigColors[1], stroke: sigColors[1], 'stroke-width': 7, 'stroke-linejoin': 'round'});


grayPoints.forEach(p => {
  const c = mk('circle', panelE, {cx: volX(p[0]), cy: volY(p[1]), r: 3.7, fill: sigColors[1]});
  
  
});
const greenB = mk('polygon', panelE, {points: bandPoints(greenBand), fill: sigColors[0], stroke: sigColors[0], 'stroke-width': 6, 'stroke-linejoin': 'round'});


greenPoints.forEach(p => {
  const c = mk('circle', panelE, {cx: volX(p[0]), cy: volY(p[1]), r: 3.7, fill: sigColors[0]});
  
  
});
const redB = mk('polygon', panelE, {points: bandPoints(redBand), fill: sigColors[2], stroke: sigColors[2], 'stroke-width': 6, 'stroke-linejoin': 'round'});


redPoints.forEach(p => {
  const c = mk('circle', panelE, {cx: volX(p[0]), cy: volY(p[1]), r: 3.7, fill: sigColors[2]});
  
  
});
const volFrame = mk('rect', panelE, {x: 1399.3, y: 1397.7, width: 372, height: 368, fill: 'none', stroke: '#333', 'stroke-width': 1.6});


geneLabels.forEach((n, i) => {
  const cx = volX(geneLabelX[i]), cy = volY(geneLabelY[i]);
  const ld = mk('line', panelE, {x1: cx, y1: cy, x2: volX(genePointX[i]), y2: volY(genePointY[i]), stroke: '#111', 'stroke-width': 0.9});
  
  
  const box = mk('rect', panelE, {y: cy - 9.3, height: 18.6, rx: 2.5, fill: '#fff', stroke: '#222', 'stroke-width': 0.9});
  
  
  const tx = mk('text', panelE, {x: cx, y: cy + 4.4, 'font-size': 12.35, 'text-anchor': 'middle', fill: '#111'}, n);
  
  
  const w = tx.getComputedTextLength() + 9.5;
  box.setAttribute('x', cx - w / 2);
  box.setAttribute('width', w);
});
sigNames.forEach((n, i) => {
  const y = 1569 + i * 23.65;
  const c = mk('circle', panelE, {cx: 1806, cy: y, r: 3.7, fill: sigColors[i]});
  
  
  const lb = mk('text', panelE, {x: 1825.5, y: y + 4.4, 'font-size': 12.3, fill: '#222'}, n);
  
  
});
</script>
</body>
</html>
